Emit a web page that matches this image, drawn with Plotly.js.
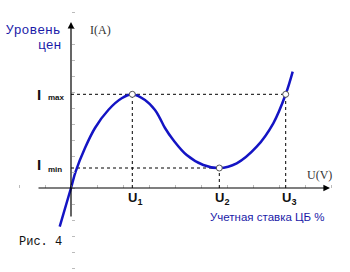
<!DOCTYPE html>
<html><head><meta charset="utf-8">
<script src="https://cdn.plot.ly/plotly-3.0.1.min.js"></script>
<style>html,body{margin:0;padding:0;background:#fff}#c{width:350px;height:272px}</style>
</head><body><div id="c"></div>
<script>
// Curve I(U) (units: px offsets from origin)
const U = [-11.3, 0, 4.7, 14, 24, 37.3, 50.7, 61.3, 74, 84, 89, 94, 102.3, 115.7, 132.3, 148.3, 165.7, 185.7, 202.3, 214.7, 221.7];
const I = [-38.7, 0, 16.6, 40, 60, 78, 89.7, 93.7, 88, 78, 69.7, 60, 48, 33, 23, 20, 24.7, 41.3, 64.7, 93.7, 116.3];
// key points
const ptU = [61.3, 148.3, 214.7];
const ptI = [93.7, 20, 93.7];
const ptLabels = ['U<sub>1</sub>', 'U<sub>2</sub>', 'U<sub>3</sub>'];
const Imax = 93.7, Imin = 20;

const dotted = {mode:'lines', line:{color:'#000', width:1, dash:'dot'}, hoverinfo:'skip', showlegend:false};
const traces = [
  Object.assign({x:[0, ptU[2]], y:[Imax, Imax]}, dotted),
  Object.assign({x:[0, ptU[1]], y:[Imin, Imin]}, dotted),
];
ptU.forEach((u,k)=>traces.push(Object.assign({x:[u,u], y:[0, ptI[k]]}, dotted)));
traces.push({x:U, y:I, mode:'lines', line:{color:'#1414c4', width:2.5, shape:'spline', smoothing:1}, showlegend:false});
traces.push({x:ptU, y:ptI, mode:'markers', marker:{color:'#fff', size:6, line:{color:'#555', width:1}}, showlegend:false});

const ann = [];
// axes arrows
ann.push({x:0, y:166, ax:0, ay:-30, xref:'x', yref:'y', axref:'x', ayref:'y', showarrow:true, arrowhead:2, arrowsize:1.1, arrowwidth:1.2, arrowcolor:'#000', text:''});
ann.push({x:259, y:0, ax:-34, ay:0, xref:'x', yref:'y', axref:'x', ayref:'y', showarrow:true, arrowhead:2, arrowsize:1.1, arrowwidth:1.2, arrowcolor:'#000', text:''});
const blueMono = {family:'Liberation Mono, DejaVu Sans Mono, monospace', size:13, color:'#1a1aa8'};
ann.push({x:-8, y:158, text:'Уровень', showarrow:false, xanchor:'right', yanchor:'middle', font:blueMono});
ann.push({x:-8, y:143, text:'цен', showarrow:false, xanchor:'right', yanchor:'middle', font:blueMono});
const serif = {family:'Liberation Serif, serif', size:12, color:'#333'};
ann.push({x:17, y:158, text:'I(A)', showarrow:false, xanchor:'left', yanchor:'middle', font:serif});
ann.push({x:234, y:13, text:'U(V)', showarrow:false, xanchor:'left', yanchor:'middle', font:serif});
const bigI = {family:'Liberation Sans, Arial, sans-serif', size:15, color:'#111'};
const small = {family:'Liberation Sans, Arial, sans-serif', size:8, color:'#111'};
ann.push({x:-32, y:Imax, text:'<b>I</b>', showarrow:false, xanchor:'center', yanchor:'middle', font:bigI});
ann.push({x:-25, y:Imax-3, text:'<b>max</b>', showarrow:false, xanchor:'left', yanchor:'middle', font:small});
ann.push({x:-32, y:Imin+4, text:'<b>I</b>', showarrow:false, xanchor:'center', yanchor:'middle', font:bigI});
ann.push({x:-25, y:Imin-1, text:'<b>min</b>', showarrow:false, xanchor:'left', yanchor:'middle', font:small});
ptU.forEach((u,k)=>ann.push({x:u+3, y:-10, text:'<b>'+ptLabels[k]+'</b>', showarrow:false, xanchor:'center', yanchor:'middle', font:{family:'Liberation Sans, Arial, sans-serif', size:13, color:'#111'}}));
ann.push({x:196, y:-29, text:'Учетная ставка ЦБ %', showarrow:false, xanchor:'center', yanchor:'middle', font:{family:'Liberation Sans, Arial, sans-serif', size:11.5, color:'#1a1aa8'}});
ann.push({x:-54, y:-54, text:'Рис. 4', showarrow:false, xanchor:'left', yanchor:'middle', font:{family:'Liberation Mono, DejaVu Sans Mono, monospace', size:12, color:'#111'}});

const layout = {
  width:350, height:272, margin:{l:0,r:0,t:0,b:0}, autosize:false,
  paper_bgcolor:'#fff', plot_bgcolor:'#fff',
  xaxis:{range:[-71,279], showgrid:false, zeroline:false, showline:false, showticklabels:false,
         ticks:'inside', ticklen:3, tickcolor:'#bbb', tick0:0, dtick:26, anchor:'free', position:84/272, fixedrange:true},
  yaxis:{range:[-84,188], showgrid:false, zeroline:false, showline:false, showticklabels:false,
         ticks:'inside', ticklen:3, tickcolor:'#bbb', tick0:0, dtick:16, anchor:'free', position:71/350, fixedrange:true},
  annotations:ann
};
Plotly.newPlot('c', traces, layout, {staticPlot:true, displayModeBar:false});
</script></body></html>
